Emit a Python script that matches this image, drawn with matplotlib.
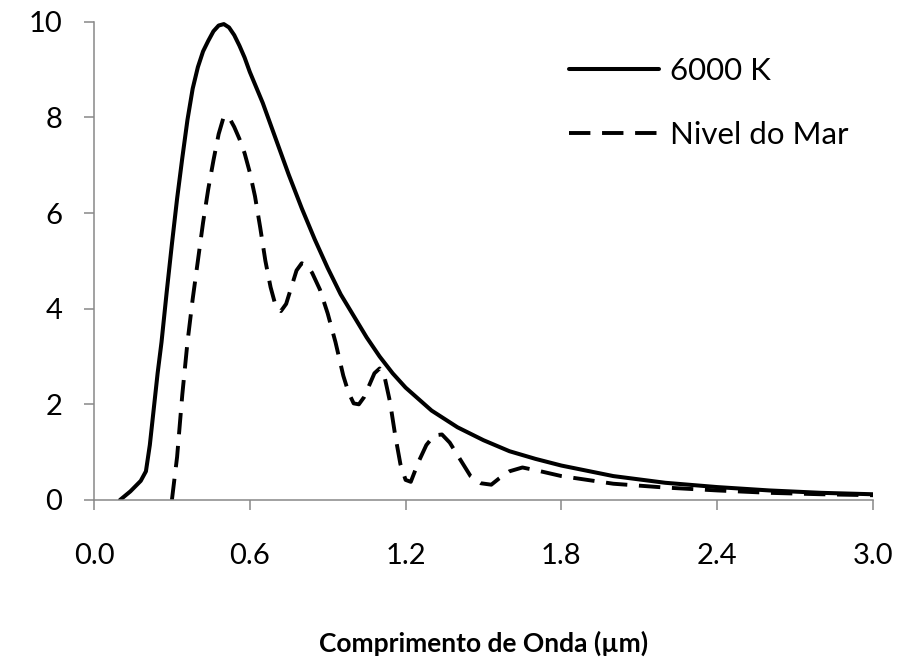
import matplotlib
matplotlib.use("Agg")
import matplotlib.pyplot as plt

plt.rcParams['font.family'] = ['Lato', 'DejaVu Sans']

# curva de corpo negro 6000 K
x_6000 = [0.10, 0.14, 0.18, 0.20, 0.215, 0.23, 0.245, 0.26, 0.28, 0.30, 0.32, 0.34,
          0.36, 0.38, 0.40, 0.42, 0.44, 0.46, 0.48, 0.50, 0.52, 0.54, 0.56, 0.58,
          0.60, 0.65, 0.70, 0.75, 0.80, 0.85, 0.90, 0.95, 1.00, 1.05, 1.10, 1.15,
          1.20, 1.30, 1.40, 1.50, 1.60, 1.70, 1.80, 2.00, 2.20, 2.40, 2.60, 2.80, 3.00]
y_6000 = [0.0, 0.18, 0.4, 0.6, 1.15, 1.9, 2.65, 3.3, 4.35, 5.35, 6.3, 7.15,
          7.95, 8.6, 9.05, 9.38, 9.6, 9.8, 9.92, 9.95, 9.88, 9.72, 9.5, 9.25,
          8.95, 8.3, 7.55, 6.8, 6.1, 5.45, 4.85, 4.3, 3.85, 3.4, 3.0, 2.65,
          2.35, 1.87, 1.52, 1.25, 1.02, 0.86, 0.72, 0.5, 0.36, 0.27, 0.2, 0.15, 0.12]

# espectro ao nivel do mar
x_mar = [0.30, 0.32, 0.34, 0.36, 0.38, 0.40, 0.42, 0.44, 0.46, 0.48, 0.50, 0.52,
         0.54, 0.56, 0.58, 0.60, 0.62, 0.64, 0.66, 0.68, 0.70, 0.72, 0.74, 0.76,
         0.78, 0.80, 0.82, 0.84, 0.87, 0.90, 0.93, 0.96, 0.98, 1.00, 1.02, 1.04,
         1.06, 1.08, 1.10, 1.12, 1.14, 1.16, 1.18, 1.20, 1.22, 1.25, 1.28, 1.31,
         1.34, 1.37, 1.41, 1.45, 1.49, 1.53, 1.56, 1.60, 1.65, 1.72, 1.80, 1.90,
         2.00, 2.20, 2.40, 2.60, 2.80, 3.00]
y_mar = [0.0, 0.9, 2.2, 3.3, 4.2, 5.0, 5.8, 6.5, 7.1, 7.65, 8.02, 8.0,
         7.8, 7.55, 7.25, 6.85, 6.35, 5.7, 5.0, 4.45, 4.05, 3.95, 4.1, 4.45,
         4.8, 4.95, 4.9, 4.75, 4.4, 3.9, 3.3, 2.6, 2.25, 2.02, 2.0, 2.15,
         2.4, 2.65, 2.75, 2.55, 2.05, 1.35, 0.75, 0.42, 0.38, 0.8, 1.15, 1.35,
         1.37, 1.2, 0.85, 0.5, 0.35, 0.32, 0.45, 0.6, 0.68, 0.6, 0.5, 0.42,
         0.34, 0.26, 0.2, 0.15, 0.12, 0.1]

x_ticks = [0.0, 0.6, 1.2, 1.8, 2.4, 3.0]
y_ticks = [0, 2, 4, 6, 8, 10]

fig = plt.figure(figsize=(9.07, 6.65), dpi=100)
ax = fig.add_axes([94/907, 1 - 500/665, (873 - 94)/907, (500 - 21.7)/665])

ax.plot(x_6000, y_6000, color='black', lw=2.9, label='6000 K',
        solid_joinstyle='round', solid_capstyle='round')
ax.plot(x_mar, y_mar, color='black', lw=2.8, dashes=(5.5, 3.0), label='Nivel do Mar',
        dash_joinstyle='round')

ax.set_xlim(0, 3.0)
ax.set_ylim(0, 10)
ax.set_xticks(x_ticks)
ax.set_xticklabels(["{0:.1f}".format(v) for v in x_ticks])
ax.set_yticks(y_ticks)

for s in ['top', 'right']:
    ax.spines[s].set_visible(False)
for s in ['left', 'bottom']:
    ax.spines[s].set_color('#888888')
    ax.spines[s].set_linewidth(1.1)

ax.tick_params(axis='both', direction='out', length=7, width=1.1, color='#888888',
               labelsize=21, labelcolor='black')
ax.tick_params(axis='x', pad=24)
ax.tick_params(axis='y', pad=16)

ax.set_xlabel('Comprimento de Onda (µm)', fontsize=19, fontweight='bold', labelpad=44)

ax.legend(loc='upper left', bbox_to_anchor=(553/907, 1 - 41/665), bbox_transform=fig.transFigure,
          frameon=False, fontsize=22.5, borderpad=0, handlelength=2.9, handletextpad=0.33,
          labelspacing=1.15)

fig.savefig('out.png', dpi=100)
